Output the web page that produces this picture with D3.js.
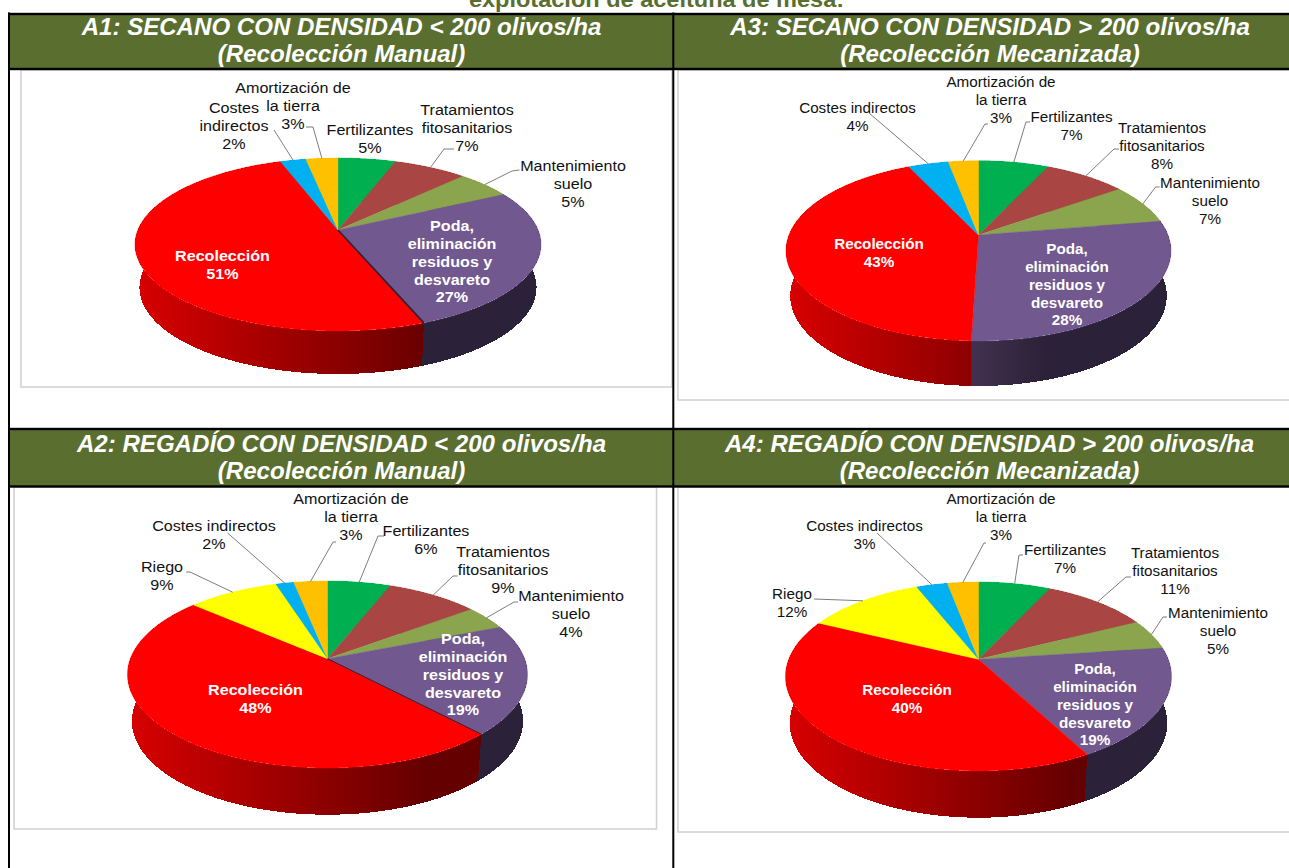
<!DOCTYPE html>
<html><head><meta charset="utf-8">
<script src="https://cdn.jsdelivr.net/npm/d3@7"></script>
<style>html,body{margin:0;padding:0;background:#fff;overflow:hidden}svg{display:block;font-family:"Liberation Sans",Arial,sans-serif}</style>
</head><body><div id="c"></div>
<script>
// ---- data ----
const categories = ["Fertilizantes","Tratamientos fitosanitarios","Mantenimiento suelo","Poda, eliminación residuos y desvareto","Recolección","Riego","Costes indirectos","Amortización de la tierra"];
const valuesA1 = [5.4,6.9,5.2,26.6,50.5,0,2.4,3];
const valuesA3 = [7,8.2,7.2,28.1,42.5,0,4,3];
const valuesA2 = [6,8.8,4.2,19,48.4,8.7,1.7,3.2];
const valuesA4 = [7.2,10.6,5.2,19,40,11.8,3.1,3.1];
const titleA1 = ["A1: SECANO CON DENSIDAD < 200 olivos/ha","(Recolección Manual)"];
const titleA3 = ["A3: SECANO CON DENSIDAD > 200 olivos/ha","(Recolección Mecanizada)"];
const titleA2 = ["A2: REGADÍO CON DENSIDAD < 200 olivos/ha","(Recolección Manual)"];
const titleA4 = ["A4: REGADÍO CON DENSIDAD > 200 olivos/ha","(Recolección Mecanizada)"];
const pageTitle = "explotación de aceituna de mesa:";

// ---- styles & layout ----
const colors = ["#00b050","#a94543","#8aa54e","#71588f","#ff0000","#ffff00","#00b0f0","#ffc000"];
const green = "#5a6e2f";
const LH = 17.8;
const A1L = [[370,130,["Fertilizantes"]],[467,110,["Tratamientos","fitosanitarios"],[[454,149],[444,149]]],[573,166,["Mantenimiento","suelo"],[[519.5,170],[512,171]]],[452,226,["Poda,","eliminación","residuos y","desvareto"]],[222.5,256,["Recolección"]],null,[234,108,["Costes","indirectos"],[[274,130]]],[293,88,["Amortización de","la tierra"],[[306,127],[313,127]]]];
const A3L = [[1071.5,117,["Fertilizantes"],[[1030,122],[1026,122]]],[1162,128,["Tratamientos","fitosanitarios"],[[1119,149],[1114,149]]],[1210,183,["Mantenimiento","suelo"],[[1159.5,187],[1155.6,187]]],[1067,249,["Poda,","eliminación","residuos y","desvareto"]],[879,244,["Recolección"]],null,[857.5,108,["Costes indirectos"],[[869,113]]],[1001,82,["Amortización de","la tierra"],[[988,124],[985,124]]]];
const A2L = [[426,531,["Fertilizantes"],[[384,536],[378,536]]],[503,552,["Tratamientos","fitosanitarios"],[[457.5,576],[453,576]]],[571,596,["Mantenimiento","suelo"],[[518,602],[514,602]]],[463,639,["Poda,","eliminación","residuos y","desvareto"]],[255.5,690,["Recolección"]],[162,567,["Riego"],[[186,572],[190,572]]],[214,526,["Costes indirectos"],[[227.6,533]]],[351,499,["Amortización de","la tierra"],[[336,542],[333,542]]]];
const A4L = [[1065,550,["Fertilizantes"],[[1023,555],[1019,555]]],[1175,553,["Tratamientos","fitosanitarios"],[[1131,577],[1126,577]]],[1218,613,["Mantenimiento","suelo"],[[1167,617],[1163,617]]],[1095,669,["Poda,","eliminación","residuos y","desvareto"]],[907,690,["Recolección"]],[792,594,["Riego"],[[814,599]]],[864.5,526,["Costes indirectos"],[[877,533]]],[1001,499,["Amortización de","la tierra"],[[986,543],[984,543]]]];
const panels = [
 {id:"A1",values:valuesA1,title:titleA1,labels:A1L,sx:1.075,tx:341.5,ty:[35,62],frame:[21,70,672,387],cx:338,apex:230,top:158,bottom:331,w:203,depth:43,seam:1.6},
 {id:"A3",values:valuesA3,title:titleA3,labels:A3L,sx:1.015,tx:990,ty:[35,62],frame:[678,70,1300,400],cx:978.5,apex:235,top:160.7,bottom:341,w:192.5,depth:45,seam:0},
 {id:"A2",values:valuesA2,title:titleA2,labels:A2L,sx:1.075,tx:341.5,ty:[451.5,479],frame:[14,487,656.5,829],cx:327.5,apex:658.7,top:581,bottom:768,w:200,depth:46.7,seam:1},
 {id:"A4",values:valuesA4,title:titleA4,labels:A4L,sx:1.015,tx:989.5,ty:[451.5,479],frame:[678,487,1300,832],cx:978.5,apex:659.3,top:582,bottom:771,w:193,depth:46.7,seam:0}
];

const svg = d3.select("#c").append("svg").attr("width",1289).attr("height",868);
const defs = svg.append("defs");
const lineGen = d3.line().x(d=>d[0]).y(d=>d[1]);
const pie = d3.pie().sort(null).value(d=>d);

function txt(g,x,y,s,o){
  return g.append("text").attr("transform",`translate(${x},${y}) scale(${o.sx},1)`)
   .attr("text-anchor","middle").attr("font-size",o.size).attr("font-weight",o.weight||"normal")
   .attr("font-style",o.style||"normal").attr("fill",o.fill).text(s);
}

// page title
txt(svg,656.5,6.5,pageTitle,{size:22,weight:"bold",fill:green,sx:1.07});

panels.forEach(p=>{
  const g = svg.append("g");
  const f = p.frame;
  g.append("rect").attr("x",f[0]).attr("y",f[1]).attr("width",f[2]-f[0]).attr("height",f[3]-f[1]).attr("fill","#fff").attr("stroke","#d0d0d0").attr("stroke-width",1.5);

  const a=p.apex-p.top, b=p.bottom-p.apex, k=(a-b)/(a+b), B=a*(1-k), A=p.w*Math.sqrt(1-k*k);
  const proj=(ang,scale=1,dy=0)=>{const x=Math.sin(ang),y=-Math.cos(ang),d=1+k*y;return [p.cx+A*scale*x/d,p.apex+B*y/d+dy];};
  const arcPts=(s,e,scale,dy)=>{const n=Math.max(2,Math.ceil((e-s)*60));return d3.range(n+1).map(i=>proj(s+(e-s)*i/n,scale,dy));};

  const red=defs.append("linearGradient").attr("id","red"+p.id).attr("gradientUnits","userSpaceOnUse")
    .attr("x1",p.cx-p.w).attr("x2",p.cx+p.w*0.5).attr("y1",0).attr("y2",0);
  red.append("stop").attr("offset",0).attr("stop-color","#d80000");
  red.append("stop").attr("offset",1).attr("stop-color","#640000");
  const pur=defs.append("linearGradient").attr("id","pur"+p.id).attr("gradientUnits","userSpaceOnUse")
    .attr("x1",p.cx-5).attr("x2",p.cx+p.w*0.35).attr("y1",0).attr("y2",0);
  pur.append("stop").attr("offset",0).attr("stop-color","#42304f");
  pur.append("stop").attr("offset",1).attr("stop-color","#2b2138");

  const arcs = pie(p.values);
  // side walls
  arcs.forEach((d,i)=>{
    if(d.value===0) return;
    const topA=arcPts(d.startAngle,d.endAngle,1,0), botA=arcPts(d.startAngle,d.endAngle,0.978,p.depth).reverse();
    const fill = i===4?`url(#red${p.id})`:i===3?`url(#pur${p.id})`:colors[i];
    g.append("path").attr("d",lineGen(topA.concat(botA))+"Z").attr("fill",fill).attr("shape-rendering","crispEdges");
  });
  // top faces
  arcs.forEach((d,i)=>{
    if(d.value===0) return;
    const pts=[[p.cx,p.apex]].concat(arcPts(d.startAngle,d.endAngle,1,0));
    g.append("path").attr("d",lineGen(pts)+"Z").attr("fill",colors[i]).attr("stroke",colors[i]).attr("stroke-width",0.4);
  });
  if(p.seam){
    g.append("path").attr("d",lineGen([[p.cx,p.apex],proj(arcs[3].endAngle)])).attr("stroke","#2b2138").attr("stroke-width",p.seam).attr("fill","none");
  }
  // leaders
  arcs.forEach((d,i)=>{
    const L=p.labels[i];
    if(!L||!L[3]) return;
    const end=proj((d.startAngle+d.endAngle)/2);
    g.append("path").attr("d",lineGen(L[3].concat([end]))).attr("fill","none").attr("stroke","#6e6e6e").attr("stroke-width",0.9);
  });
  // labels
  arcs.forEach((d,i)=>{
    const L=p.labels[i];
    if(!L) return;
    const white=(i===3||i===4);
    const lines=L[2].concat([Math.round(d.value)+"%"]);
    lines.forEach((s,j)=>txt(g,L[0],L[1]+j*LH+5.2,s,{size:15,sx:p.sx,fill:white?"#fff":"#111",weight:white?"bold":"normal"}));
  });
});

// table structure
const rows=[[14,68],[429,485.5]];
rows.forEach(r=>{
  svg.append("rect").attr("x",9).attr("y",r[0]).attr("width",1280).attr("height",r[1]-r[0]+1).attr("fill",green);
  [r[0],r[1]+1].forEach(y=>svg.append("rect").attr("x",8).attr("y",y-1.2).attr("width",1281).attr("height",2.4).attr("fill","#000"));
});
svg.append("rect").attr("x",8).attr("y",12.5).attr("width",2).attr("height",856).attr("fill","#000");
svg.append("rect").attr("x",672.3).attr("y",12.5).attr("width",2).attr("height",856).attr("fill","#000");
panels.forEach(p=>{
  p.title.forEach((s,j)=>txt(svg,p.tx,p.ty[j],s,{size:23.5,weight:"bold",style:"italic",fill:"#fff",sx:1.025}));
});
</script></body></html>
